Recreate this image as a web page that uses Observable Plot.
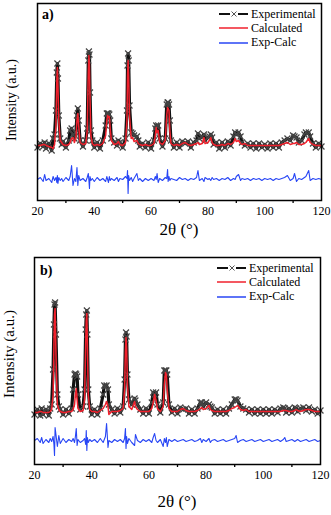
<!DOCTYPE html>
<html>
<head>
<meta charset="utf-8">
<script src="https://cdn.jsdelivr.net/npm/d3@7"></script>
<script src="https://cdn.jsdelivr.net/npm/@observablehq/plot@0.6"></script>
<style>
  html, body { margin: 0; padding: 0; background: #fff; }
  #wrap { position: relative; width: 331px; height: 515px; overflow: hidden; color: #000; }
  .panel { position: absolute; left: 0; }
  .ov { position: absolute; white-space: nowrap; line-height: 1; }
  .lab { font-weight: bold; font-size: 14px; }
  .xt { font-size: 17px; text-align: center; }
  .yt { transform: translate(-50%, -50%) rotate(-90deg); }
  .leg { position: absolute; display: flex; align-items: center; height: 14px; font-size: 12px; }
  .leg svg { margin-right: 2px; }
</style>
</head>
<body>
<div id="wrap"></div>
<script>
// ---------- Panel a) ----------
const a_theta = [20,21,22,22.5,23,24,25,25.5,26,26.5,
  26.8,27.0,27.2,27.5,28,28.5,29,30,31,31.5,
  32,32.5,33,33.5,33.9,34.2,34.5,35,36,37,
  37.5,37.9,38.1,38.3,38.5,38.8,39.3,40,41,42,
  43,44,44.4,44.7,45.0,45.3,45.6,46,47,48,
  48.5,49,50,51,51.5,51.7,51.9,52.1,52.4,53,
  53.5,54,55,55.5,56,57,58,59,60,61,
  61.5,61.8,62.1,62.5,63,64,65,65.5,65.8,66.0,
  66.3,66.6,67,68,69,70,71,72,73,74,
  75,76,76.5,77,78,78.6,79,80,80.5,81,
  81.5,82,83,84,85,86,87,88,89,89.6,
  90,90.8,91.5,92,93,94,95,96,97,98,
  99,100,101,102,103,104,105,106,107,108,
  109,110,110.5,111.2,112,113,114,114.5,115.5,116,
  117,118,119,120];
const a_calc = [55,55,56,56,55,54,53,52,56,75,
  120,133,115,80,60,58,56,55,56,58,
  62,63,58,62,80,87,75,58,56,57,
  70,130,145,135,100,65,57,55,56,55,
  57,65,80,85,83,84,72,60,56,57,
  59,56,55,58,80,125,140,125,85,62,
  63,59,60,57,56,55,56,55,55,57,
  65,73,68,70,58,56,60,85,93,92,
  90,70,57,55,56,55,57,58,56,55,
  56,57,58,56,57,63,57,58,60,63,
  58,56,55,55,56,55,57,56,58,62,
  59,60,57,56,57,55,55,55,55,55,
  55,55,55,55,55,55,55,56,57,58,
  56,57,57,58,56,56,57,58,62,58,
  56,55,55,55];
const a_exp = [53,57,54,58,52,57,50,62,66,90,
  128,137,122,85,62,56,59,53,60,70,
  72,66,62,68,85,92,80,60,54,60,
  72,140,149,146,108,70,60,53,58,52,
  60,75,87,87,87,86,80,62,58,55,
  60,58,53,62,90,135,147,140,95,68,
  67,65,64,60,54,57,53,58,52,60,
  72,75,74,75,62,54,62,96,98,98,
  96,80,60,53,58,53,59,57,59,53,
  58,60,67,62,64,66,60,63,64,66,
  63,56,58,52,58,53,59,55,64,68,
  66,68,64,58,55,57,53,57,52,57,
  53,56,52,57,53,57,53,58,60,62,
  60,65,64,63,58,60,66,68,68,64,
  57,53,57,54];
const a_diff = [21,23,19,26,20,22,18,24,20,23,
  18,25,17,23,20,22,19,23,20,24,
  35,15,22,19,33,15,25,20,22,19,
  23,27,20,12,24,20,22,19,23,20,
  22,19,24,21,18,24,20,22,20,23,
  19,22,21,24,22,30,7,25,20,23,
  19,22,27,20,22,19,22,20,22,20,
  24,21,27,18,22,20,23,22,31,19,
  24,20,22,21,20,23,21,22,20,22,
  21,23,30,20,22,19,23,21,22,20,
  23,21,22,20,22,21,23,20,22,21,
  24,26,20,22,21,22,20,22,21,22,
  20,22,21,22,20,22,21,22,23,25,
  20,22,27,19,22,21,23,24,30,20,
  22,21,22,21];

// ---------- Panel b) ----------
const b_theta = [20,21,22,22.5,23,24,25,25.5,26,26.5,
  26.8,27.0,27.2,27.5,28,28.5,29,30,31,32,
  33,33.5,34,34.3,34.6,34.9,35.2,36,37,37.5,
  37.9,38.1,38.3,38.5,38.8,39.3,40,41,42,43,
  44,44.4,44.8,45.2,45.7,46,47,48,49,50,
  51,51.5,51.8,52.0,52.2,52.5,53,54,55,55.3,
  56,57,58,59,60,61,61.5,62.0,62.5,63,
  64,65,65.4,65.8,66.1,66.4,67,68,69,70,
  71,72,73,74,75,76,77,78,78.5,79,
  80,81,81.5,82,83,84,85,86,87,88,
  89,90,90.5,91,92,93,94,95,96,97,
  98,99,100,101,102,103,104,105,106,107,
  107.5,108,109,110,111,111.5,112,113,114,115,
  116,117,118,119,120];
const b_calc = [52,52,53,53,52,52,52,53,55,70,
  120,150,156,110,60,55,53,52,52,53,
  53,55,60,70,76,65,56,53,54,65,
  120,145,151,120,70,55,53,53,52,54,
  56,58,60,63,58,50,53,53,53,54,
  56,75,115,127,118,80,58,55,63,58,
  55,53,53,53,53,56,62,70,64,56,
  53,58,80,92,90,75,56,53,53,53,
  55,56,54,53,53,53,54,56,57,55,
  56,59,55,54,53,53,53,53,53,54,
  56,57,58,59,55,54,55,53,53,53,
  53,53,53,53,53,53,53,53,53,54,
  54,54,53,53,54,55,54,53,54,55,
  55,54,53,53,53];
const b_exp = [50,55,49,56,50,55,49,56,60,95,
  140,160,162,130,70,58,55,50,55,51,
  56,75,90,91,90,88,70,55,58,75,
  135,150,154,130,75,58,50,55,50,56,
  70,79,78,79,75,60,55,51,56,52,
  58,85,125,132,128,90,65,60,66,64,
  60,55,51,56,51,62,72,70,72,60,
  52,62,94,94,94,90,60,52,56,51,
  57,55,56,51,55,51,56,62,62,58,
  62,60,58,57,51,55,51,55,51,56,
  60,65,65,64,58,56,55,52,55,51,
  55,51,55,51,55,51,55,52,56,57,
  56,52,56,52,57,56,53,56,57,54,
  57,53,55,51,54];
const b_diff = [24,26,22,27,21,25,22,26,23,28,
  20,9,37,30,18,29,21,26,22,25,
  23,26,22,28,36,19,25,22,24,26,
  20,34,14,27,22,25,23,25,22,26,
  22,25,28,41,17,24,22,25,23,25,
  22,26,36,16,28,21,26,22,19,30,
  24,22,25,23,25,22,27,31,24,22,
  25,18,26,22,27,18,25,23,25,23,
  24,25,23,24,25,23,24,26,22,25,
  23,26,22,24,25,23,24,25,23,24,
  25,26,29,22,24,25,23,24,25,23,
  24,25,23,24,25,23,24,25,23,25,
  27,23,24,25,23,24,25,23,24,25,
  23,24,25,23,24];

const majorTicks = [20, 40, 60, 80, 100, 120];
const minorTicks = [30, 50, 70, 90, 110];
const seriesNames = ["Experimental", "Calculated", "Exp-Calc"];
const panelLabels = ["a)", "b)"];
const xTitle = "2θ (°)";
const yTitle = "Intensity (a.u.)";

const COL_EXP = "#111", COL_CALC = "#f0202c", COL_DIFF = "#2846f5";

// choose the first installed serif face (Times-like preferred)
function pickFont(cands) {
  const c = document.createElement("canvas").getContext("2d");
  const s = "Experimental Intensity 2θ 0123456789";
  for (const f of cands) {
    let ok = false;
    for (const base of ["monospace", "sans-serif"]) {
      c.font = `40px ${base}`; const w0 = c.measureText(s).width;
      c.font = `40px "${f}", ${base}`; const w1 = c.measureText(s).width;
      if (Math.abs(w1 - w0) > 0.5) ok = true;
    }
    if (ok) return `"${f}", serif`;
  }
  return "serif";
}
const FONT = pickFont(["Liberation Serif", "Times New Roman", "Times", "DejaVu Serif", "Noto Serif"]);

function table(theta, exp, calc, diff) {
  return theta.map((t, i) => ({t, exp: exp[i], calc: calc[i], diff: diff[i]}));
}

function panel(data, opts) {
  return Plot.plot({
    width: 331,
    height: opts.height,
    marginLeft: opts.ml, marginRight: opts.mr, marginTop: opts.mt, marginBottom: opts.mb,
    style: {fontFamily: FONT, fontSize: "12px", color: "#000", background: "transparent", overflow: "visible"},
    x: {domain: [20, 120], label: null},
    y: {domain: opts.ydomain, axis: null, label: null},
    marks: [
      Plot.line(data, {x: "t", y: "exp", stroke: COL_EXP, strokeWidth: 3.2, strokeLinejoin: "round"}),
      Plot.dot(data, {x: "t", y: "exp", symbol: "times", r: 2.8, stroke: "#444", strokeWidth: 1.2}),
      Plot.line(data, {x: "t", y: "calc", stroke: COL_CALC, strokeWidth: 1.5}),
      Plot.line(data, {x: "t", y: "diff", stroke: COL_DIFF, strokeWidth: 1.1}),
      Plot.frame({stroke: "#000", strokeWidth: 1.5}),
      Plot.axisX({ticks: majorTicks, tickSize: 0, tickPadding: 6, fontSize: 12, fontFamily: FONT}),
      Plot.axisX({ticks: minorTicks, tickSize: 3, tickFormat: () => "", strokeWidth: 1.3})
    ]
  });
}

const wrap = document.getElementById("wrap");
wrap.style.fontFamily = FONT;

function addLegend(top, left) {
  const colors = [COL_EXP, COL_CALC, COL_DIFF];
  seriesNames.forEach((name, i) => {
    const row = document.createElement("div");
    row.className = "leg";
    row.style.top = (top + i * 14.3) + "px";
    row.style.left = left + "px";
    let sw = `<svg width="30" height="10"><line x1="0" y1="5" x2="29" y2="5" stroke="${colors[i]}" stroke-width="${i === 0 ? 2 : 1.5}"/>`;
    if (i === 0) sw += `<rect x="11" y="1" width="8" height="8" fill="#fff"/><path d="M12.5,2.5L17.5,7.5M17.5,2.5L12.5,7.5" stroke="#555" stroke-width="1"/>`;
    sw += `</svg>`;
    row.innerHTML = sw + `<span>${name}</span>`;
    wrap.appendChild(row);
  });
}

function addText(cls, text, css) {
  const d = document.createElement("div");
  d.className = "ov " + cls;
  d.textContent = text;
  Object.assign(d.style, css);
  wrap.appendChild(d);
}

// Panel a
const pa = panel(table(a_theta, a_exp, a_calc, a_diff), {height: 250, ml: 37, mr: 10, mt: 3, mb: 50, ydomain: [0, 197]});
const da = document.createElement("div"); da.className = "panel"; da.style.top = "0px"; da.appendChild(pa); wrap.appendChild(da);
// Panel b
const pb = panel(table(b_theta, b_exp, b_calc, b_diff), {height: 265, ml: 34, mr: 11, mt: 7, mb: 51, ydomain: [0, 207]});
const db = document.createElement("div"); db.className = "panel"; db.style.top = "250px"; db.appendChild(pb); wrap.appendChild(db);

addText("lab", panelLabels[0], {left: "42px", top: "8px"});
addText("lab", panelLabels[1], {left: "40px", top: "264px"});
addLegend(7, 219);
addLegend(261, 217);
addText("xt", xTitle, {left: "37px", width: "284px", top: "221px"});
addText("xt", xTitle, {left: "34px", width: "286px", top: "493px"});
addText("yt", yTitle, {left: "12px", top: "100px", fontSize: "14px"});
addText("yt", yTitle, {left: "9px", top: "354px", fontSize: "15px"});
</script>
</body>
</html>
